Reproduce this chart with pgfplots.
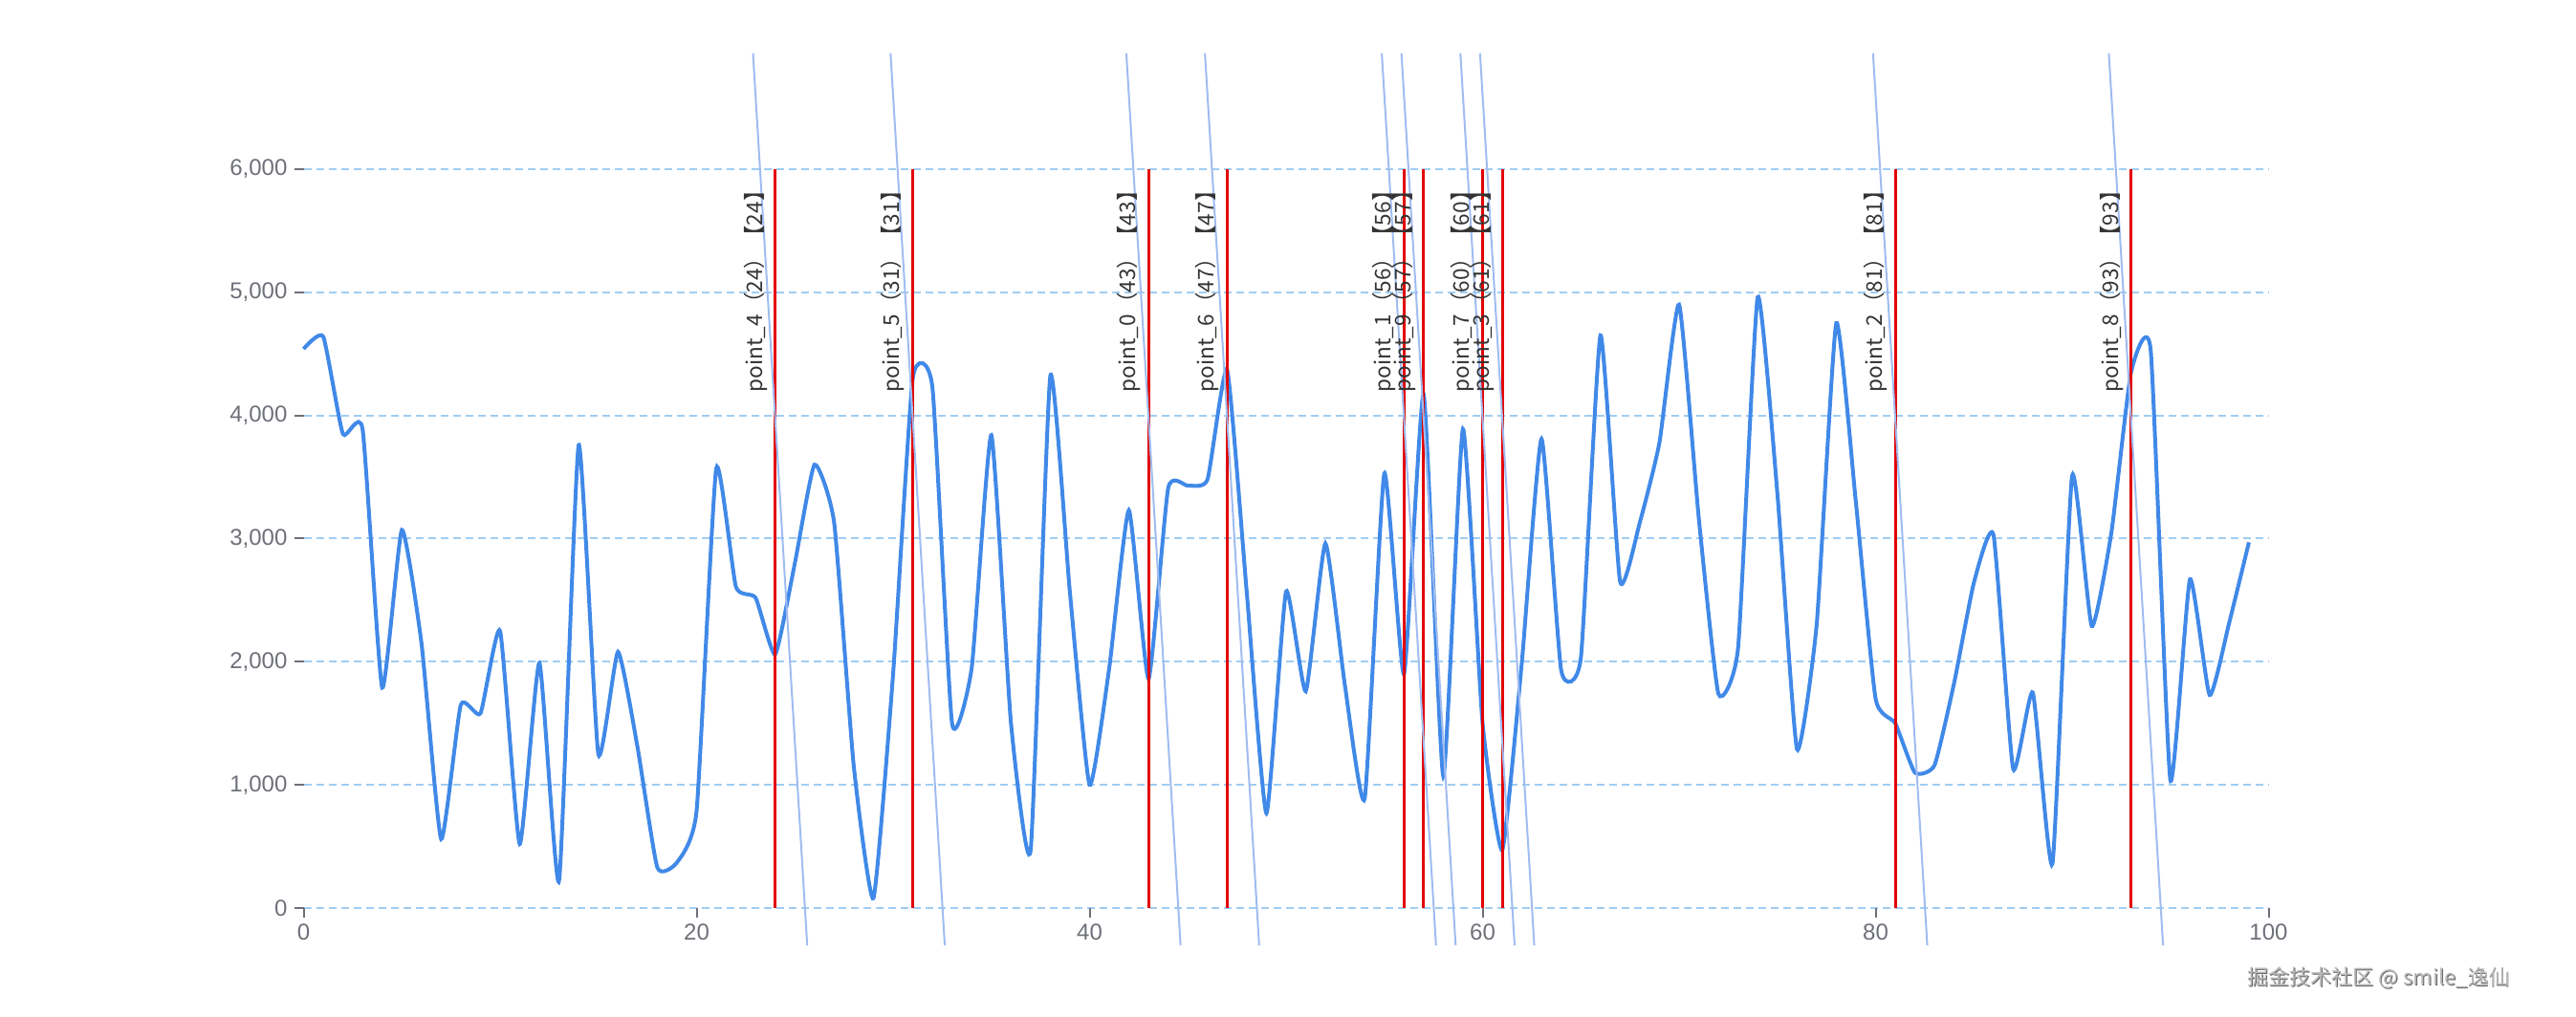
\documentclass[border=0pt]{standalone}
\usepackage{pgfplots}
\pgfplotsset{compat=1.18}
\usepackage{fontspec}
\setmainfont{Liberation Sans}
\newfontfamily\cjk{Noto Sans CJK SC}
\definecolor{lineblue}{RGB}{64,137,232}
\definecolor{gridblue}{RGB}{160,205,242}
\definecolor{slantblue}{RGB}{160,188,240}
\definecolor{markred}{RGB}{226,0,0}
\definecolor{tickgray}{RGB}{110,112,121}
\definecolor{labeldark}{RGB}{51,51,51}
\pgfplotstableread{
x y
0 4540
1 4640
2 3850
3 3890
4 1790
5 3070
6 2150
7 560
8 1650
9 1580
10 2250
11 520
12 1990
13 220
14 3760
15 1250
16 2080
17 1300
18 330
19 370
20 790
21 3570
22 2610
23 2520
24 2060
25 2800
26 3600
27 3130
28 1150
29 80
30 1900
31 4300
32 4230
33 1500
34 1950
35 3840
36 1500
37 470
38 4320
39 2560
40 1000
41 1950
42 3230
43 1860
44 3410
45 3430
46 3480
47 4370
48 2560
49 770
50 2570
51 1760
52 2960
53 1800
54 890
55 3530
56 1900
57 4170
58 1070
59 3890
60 1500
61 470
62 2000
63 3810
64 1930
65 2030
66 4650
67 2650
68 3130
69 3780
70 4900
71 3170
72 1740
73 2110
74 4960
75 3370
76 1290
77 2300
78 4750
79 3290
80 1700
81 1500
82 1100
83 1160
84 1830
85 2640
86 3030
87 1130
88 1750
89 360
90 3510
91 2290
92 3050
93 4350
94 4530
95 1040
96 2670
97 1730
98 2320
99 2970
}\datatable
\begin{document}
\begin{tikzpicture}[x=1pt,y=1pt]
\useasboundingbox (0,0) rectangle (1347,532);
\begin{axis}[
  at={(158.75pt,57pt)}, anchor=south west,
  scale only axis, width=1027.5pt, height=386.5pt,
  xmin=0, xmax=100, ymin=0, ymax=6000,
  axis line style={draw=none},
  xtick={0,20,...,100}, ytick={0,1000,...,6000},
  tick pos=left, tick align=outside, major tick length=5pt,
  tick style={tickgray, line width=1pt},
  ymajorgrids, grid style={gridblue, dash pattern=on 4pt off 2.5pt, line width=1pt},
  clip=false,
  ticklabel style={font=\fontsize{12}{14}\selectfont, text=tickgray},
  /pgf/number format/assume math mode=true,
  /pgf/number format/1000 sep={,},
]
\addplot[lineblue, line width=2pt, smooth, tension=0.3, no marks] table[x=x,y=y] {\datatable};
% red mark lines
\addplot[markred, line width=1.5pt, forget plot] coordinates {(24,0) (24,6000)};
\addplot[markred, line width=1.5pt, forget plot] coordinates {(31,0) (31,6000)};
\addplot[markred, line width=1.5pt, forget plot] coordinates {(43,0) (43,6000)};
\addplot[markred, line width=1.5pt, forget plot] coordinates {(47,0) (47,6000)};
\addplot[markred, line width=1.5pt, forget plot] coordinates {(56,0) (56,6000)};
\addplot[markred, line width=1.5pt, forget plot] coordinates {(57,0) (57,6000)};
\addplot[markred, line width=1.5pt, forget plot] coordinates {(60,0) (60,6000)};
\addplot[markred, line width=1.5pt, forget plot] coordinates {(61,0) (61,6000)};
\addplot[markred, line width=1.5pt, forget plot] coordinates {(81,0) (81,6000)};
\addplot[markred, line width=1.5pt, forget plot] coordinates {(93,0) (93,6000)};
% slanted lines
\addplot[slantblue, line width=1pt, forget plot] coordinates {(22.87,6941) (25.63,-303)};
\addplot[slantblue, line width=1pt, forget plot] coordinates {(29.87,6941) (32.63,-303)};
\addplot[slantblue, line width=1pt, forget plot] coordinates {(41.87,6941) (44.63,-303)};
\addplot[slantblue, line width=1pt, forget plot] coordinates {(45.87,6941) (48.63,-303)};
\addplot[slantblue, line width=1pt, forget plot] coordinates {(54.87,6941) (57.63,-303)};
\addplot[slantblue, line width=1pt, forget plot] coordinates {(55.87,6941) (58.63,-303)};
\addplot[slantblue, line width=1pt, forget plot] coordinates {(58.87,6941) (61.63,-303)};
\addplot[slantblue, line width=1pt, forget plot] coordinates {(59.87,6941) (62.63,-303)};
\addplot[slantblue, line width=1pt, forget plot] coordinates {(79.87,6941) (82.63,-303)};
\addplot[slantblue, line width=1pt, forget plot] coordinates {(91.87,6941) (94.63,-303)};
% labels
\tikzset{mlab/.style={rotate=90, anchor=south east, inner sep=0pt, font=\cjk\fontsize{11.3}{13}\selectfont, text=labeldark}}
\node[mlab] at (axis cs:23.61,5915) {point\_4（24）【24】};
\node[mlab] at (axis cs:30.61,5915) {point\_5（31）【31】};
\node[mlab] at (axis cs:42.61,5915) {point\_0（43）【43】};
\node[mlab] at (axis cs:46.61,5915) {point\_6（47）【47】};
\node[mlab] at (axis cs:55.61,5915) {point\_1（56）【56】};
\node[mlab] at (axis cs:56.61,5915) {point\_9（57）【57】};
\node[mlab] at (axis cs:59.61,5915) {point\_7（60）【60】};
\node[mlab] at (axis cs:60.61,5915) {point\_3（61）【61】};
\node[mlab] at (axis cs:80.61,5915) {point\_2（81）【81】};
\node[mlab] at (axis cs:92.61,5915) {point\_8（93）【93】};
\end{axis}
\node[text=gray!80!black, font=\cjk\fontsize{11}{13}\selectfont] at (1244.4,20.1) {掘金技术社区 @ smile\_逸仙};
\node[text=gray!55, font=\cjk\fontsize{11}{13}\selectfont] at (1244,20.5) {掘金技术社区 @ smile\_逸仙};
\end{tikzpicture}
\end{document}
